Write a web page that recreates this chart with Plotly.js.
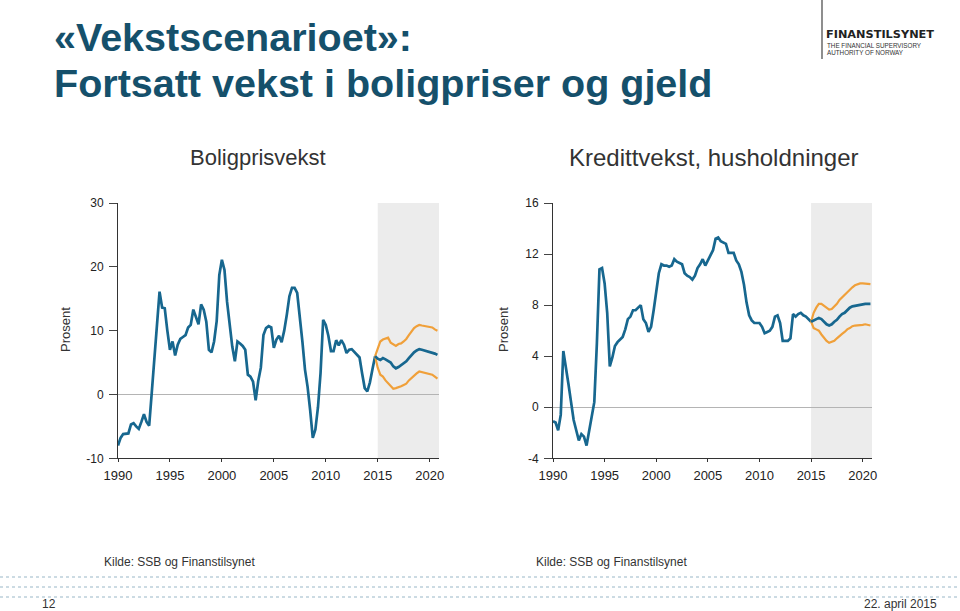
<!DOCTYPE html>
<html>
<head>
<meta charset="utf-8">
<script src="https://cdn.plot.ly/plotly-3.0.1.min.js"></script>
<style>
  html, body { margin: 0; padding: 0; background: #fff; }
  #chart { width: 960px; height: 611px; }
</style>
</head>
<body>
<div id="chart"></div>
<script>
// Boligprisvekst, quarterly from 1990Q1 to 2014Q4 (prosent)
var houseHist = [
    -8.0, -6.8, -6.2, -6.1,
    -6.1, -4.7, -4.5, -5.0,
    -5.4, -4.3, -3.1, -4.3,
    -4.9, 0.3, 5.5, 10.5,
    16.1, 13.6, 13.5, 10.0,
    7.0, 8.3, 6.1, 7.8,
    8.7, 9.0, 9.3, 10.5,
    10.9, 13.3, 12.2, 11.0,
    14.1, 13.3, 11.4, 7.0,
    6.6, 8.3, 11.5, 18.7,
    21.1, 19.5, 14.5, 10.8,
    7.5, 5.2, 8.3, 8.0,
    7.6, 7.0, 3.1, 2.8,
    2.0, -0.9, 2.1, 4.2,
    9.3, 10.4, 10.7, 10.5,
    7.3, 8.6, 9.2, 8.2,
    10.0, 12.5, 15.4, 16.7,
    16.7, 15.9, 12.5, 8.3,
    3.9, 1.2, -2.5, -6.8,
    -5.5, -2.0, 3.4, 11.7,
    10.9, 9.2, 6.8, 6.8,
    8.5, 7.7, 8.5, 7.8,
    6.5, 7.0, 7.1, 6.7,
    6.3, 5.8, 3.3, 1.0,
    0.5, 1.9, 4.0, 6.0
];
// scenario 2014Q4 - 2020Q4
var houseMid = [
    6.0, 5.6, 5.4, 5.7, 5.5, 5.3, 5.0, 4.4, 4.1, 4.3, 4.6, 4.8, 5.2,
    5.7, 6.2, 6.6, 6.9, 7.1, 7.0, 6.9, 6.8, 6.7, 6.6, 6.4, 6.2
];
var houseHigh = [
    6.0, 7.1, 8.3, 8.6, 8.8, 8.9, 8.1, 7.8, 7.6, 7.9, 8.0, 8.3, 8.7,
    9.3, 9.8, 10.4, 10.7, 10.9, 10.8, 10.7, 10.6, 10.6, 10.5, 10.2, 10.0
];
var houseLow = [
    6.0, 4.2, 3.1, 2.8, 2.2, 1.8, 1.3, 0.9, 1.0, 1.1, 1.3, 1.5, 1.7,
    2.2, 2.6, 3.0, 3.3, 3.6, 3.5, 3.5, 3.3, 3.2, 3.1, 2.8, 2.5
];

// Kredittvekst husholdninger, quarterly from 1990Q1 to 2015Q1 (prosent)
var creditHist = [
    -1.1, -1.2, -1.8, -0.6,
    4.4, 2.9, 1.8, 0.4,
    -1.0, -1.8, -2.6, -2.1,
    -2.3, -3.0, -1.8, -0.9,
    0.4, 5.0, 10.8, 10.9,
    9.7, 7.4, 3.2, 3.9,
    4.8, 5.1, 5.3, 5.5,
    6.1, 6.9, 7.1, 7.6,
    7.6, 7.8, 8.0, 6.9,
    6.6, 5.9, 6.3, 7.6,
    9.2, 10.5, 11.2, 11.1,
    11.1, 11.0, 11.1, 11.6,
    11.4, 11.3, 11.2, 10.5,
    10.3, 10.2, 10.0, 10.3,
    10.9, 11.2, 11.6, 11.1,
    11.5, 11.8, 12.3, 13.2,
    13.3, 13.0, 12.9, 12.8,
    12.1, 12.1, 12.1, 11.5,
    11.2, 10.6, 9.6, 8.2,
    7.2, 6.8, 6.6, 6.6,
    6.6, 6.3, 5.8, 5.9,
    6.0, 6.3, 7.1, 7.2,
    6.6, 5.2, 5.2, 5.2,
    5.4, 7.3, 7.1, 7.3,
    7.4, 7.2, 7.1, 6.9,
    6.7
];
// scenario 2015Q1 - 2020Q4
var creditMid = [
    6.7, 6.8, 6.9, 7.0, 6.9, 6.7, 6.5, 6.4, 6.5, 6.7, 6.85, 7.1,
    7.3, 7.4, 7.6, 7.8, 7.9, 7.95, 8.0, 8.05, 8.1, 8.1, 8.1, 8.1
];
var creditHigh = [
    6.7, 7.4, 7.8, 8.1, 8.1, 7.95, 7.8, 7.65, 7.7, 7.9, 8.1, 8.4,
    8.6, 8.8, 9.05, 9.25, 9.4, 9.55, 9.65, 9.7, 9.7, 9.7, 9.7, 9.65
];
var creditLow = [
    6.7, 6.2, 6.1, 6.0, 5.7, 5.4, 5.2, 5.05, 5.1, 5.2, 5.4, 5.6,
    5.75, 5.9, 6.1, 6.2, 6.35, 6.4, 6.4, 6.4, 6.45, 6.5, 6.45, 6.4
];

var yearTicks = [1990, 1995, 2000, 2005, 2010, 2015, 2020];
var houseTicks = [-10, 0, 10, 20, 30];
var houseTickText = ['-10', '0', '10', '20', '30'];
var creditTicks = [-4, 0, 4, 8, 12, 16];
var creditTickText = ['-4', '0', '4', '8', '12', '16'];

var BLUE = '#17678f';
var ORANGE = '#f0a03a';
var FONT = 'Arial, "Liberation Sans", sans-serif';

function quarters(start, n) {
    var out = [];
    for (var i = 0; i < n; i++) out.push(start + i * 0.25);
    return out;
}

// pixel helpers (margin is zero so paper == page)
function px(x) { return x / 960; }
function py(y) { return 1 - y / 611; }

function line(x, y, color, width, xa, ya) {
    return {
        x: x, y: y, xaxis: xa, yaxis: ya,
        type: 'scatter', mode: 'lines',
        line: {color: color, width: width},
        hoverinfo: 'skip'
    };
}

var hx = quarters(1990, houseHist.length);
var hf = quarters(2014.75, houseMid.length);
var cx = quarters(1990, creditHist.length);
var cf = quarters(2015, creditMid.length);

var traces = [
    line(hx, houseHist, BLUE, 2.7, 'x', 'y'),
    line(hf, houseHigh, ORANGE, 2.2, 'x', 'y'),
    line(hf, houseLow, ORANGE, 2.2, 'x', 'y'),
    line(hf, houseMid, BLUE, 2.7, 'x', 'y'),
    line(cx, creditHist, BLUE, 2.7, 'x2', 'y2'),
    line(cf, creditHigh, ORANGE, 2.2, 'x2', 'y2'),
    line(cf, creditLow, ORANGE, 2.2, 'x2', 'y2'),
    line(cf, creditMid, BLUE, 2.7, 'x2', 'y2')
];

function xAxis(domain, anchor) {
    return {
        domain: domain, anchor: anchor,
        range: [1990, 2020.9],
        tickvals: yearTicks,
        ticks: 'outside', ticklen: 3, tickcolor: '#333',
        ticklabelstandoff: 2,
        showline: true, linecolor: '#333', linewidth: 1,
        showgrid: false, zeroline: false,
        tickfont: {family: FONT, size: 13, color: '#222'},
        fixedrange: true
    };
}

function yAxis(range, ticks, labels, anchor) {
    return {
        domain: [py(458.3), py(203)], anchor: anchor,
        range: range,
        tickvals: ticks, ticktext: labels,
        ticks: 'outside', ticklen: 8, tickcolor: '#444',
        ticklabelstandoff: 3,
        showline: true, linecolor: '#333', linewidth: 1,
        showgrid: false,
        zeroline: true, zerolinecolor: '#b4b4b4', zerolinewidth: 1,
        tickfont: {family: FONT, size: 12, color: '#222'},
        fixedrange: true
    };
}

function text(t, x, y, size, opts) {
    var a = {
        text: t, xref: 'paper', yref: 'paper',
        x: px(x), y: py(y), showarrow: false,
        xanchor: 'center', yanchor: 'middle',
        font: {family: FONT, size: size, color: '#333'}
    };
    for (var k in opts) a[k] = opts[k];
    return a;
}

var TITLE = {family: FONT, size: 39.5, color: '#15506b'};

var annotations = [
    text('<b>«Vekstscenarioet»:</b>', 52, 37, 39.5, {xanchor: 'left', font: TITLE}),
    text('<b>Fortsatt vekst i boligpriser og gjeld</b>', 52, 83, 39.5, {xanchor: 'left', font: TITLE}),
    text('Boligprisvekst', 258, 157, 22),
    text('Kredittvekst, husholdninger', 714, 157, 24),
    text('Prosent', 65, 330, 13, {textangle: -90}),
    text('Prosent', 503, 330, 13, {textangle: -90}),
    text('Kilde: SSB og Finanstilsynet', 102, 562, 12, {xanchor: 'left'}),
    text('Kilde: SSB og Finanstilsynet', 534, 562, 12, {xanchor: 'left'}),
    text('12', 40, 604, 12, {xanchor: 'left'}),
    text('22. april 2015', 939, 604, 12, {xanchor: 'right'}),
    text('<b>FINANSTILSYNET</b>', 824, 34.5, 11.3,
         {xanchor: 'left', font: {family: '"DejaVu Sans", sans-serif', size: 11.3, color: '#222'}}),
    text('THE FINANCIAL SUPERVISORY', 824.5, 45.5, 6.3,
         {xanchor: 'left', font: {family: FONT, size: 6.3, color: '#333'}}),
    text('AUTHORITY OF NORWAY', 824.5, 53, 6.3,
         {xanchor: 'left', font: {family: FONT, size: 6.3, color: '#333'}})
];

var shapes = [
    {type: 'rect', xref: 'x', yref: 'y domain', x0: 2015, x1: 2020.9, y0: 0, y1: 1,
     fillcolor: '#ececec', line: {width: 0}, layer: 'below'},
    {type: 'rect', xref: 'x2', yref: 'y2 domain', x0: 2015, x1: 2020.9, y0: 0, y1: 1,
     fillcolor: '#ececec', line: {width: 0}, layer: 'below'},
    // logo rule
    {type: 'line', xref: 'paper', yref: 'paper', x0: px(822), x1: px(822), y0: py(0), y1: py(59),
     line: {color: '#444', width: 1.2}}
];

// dotted footer rules
[577, 587, 597].forEach(function (yy) {
    shapes.push({
        type: 'line', xref: 'paper', yref: 'paper',
        x0: 0, x1: 1, y0: py(yy), y1: py(yy),
        line: {color: '#bcd0da', width: 1.4, dash: 'dot'}
    });
});

var layout = {
    width: 960, height: 611,
    margin: {l: 0, r: 0, t: 0, b: 0},
    paper_bgcolor: '#fff',
    plot_bgcolor: 'rgba(0,0,0,0)',
    showlegend: false,
    font: {family: FONT},
    xaxis: xAxis([px(118), px(439)], 'y'),
    yaxis: yAxis([-10, 30], houseTicks, houseTickText, 'x'),
    xaxis2: xAxis([px(553), px(872)], 'y2'),
    yaxis2: yAxis([-4, 16], creditTicks, creditTickText, 'x2'),
    annotations: annotations,
    shapes: shapes
};

Plotly.newPlot('chart', traces, layout, {displayModeBar: false, staticPlot: true});
</script>
</body>
</html>
